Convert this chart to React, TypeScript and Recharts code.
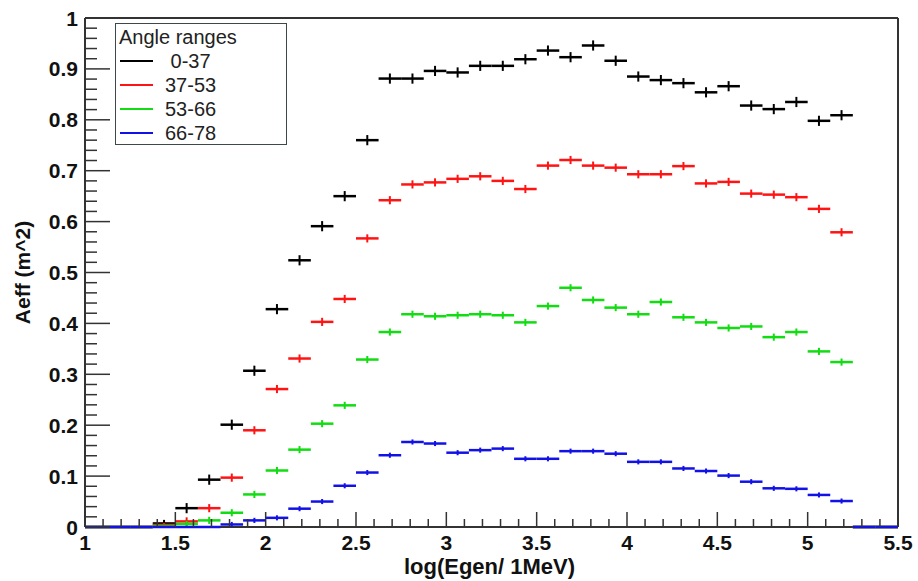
import React from 'react';
import { ComposedChart, Scatter, ErrorBar, XAxis, YAxis, ReferenceLine, Legend } from 'recharts';

// log10(E / 1 MeV) bin centres, bin width 0.125
const BIN_CENTERS = [
  1.0625, 1.1875, 1.3125, 1.4375, 1.5625, 1.6875, 1.8125, 1.9375, 2.0625, 2.1875, 2.3125, 2.4375,
  2.5625, 2.6875, 2.8125, 2.9375, 3.0625, 3.1875, 3.3125, 3.4375, 3.5625, 3.6875, 3.8125, 3.9375,
  4.0625, 4.1875, 4.3125, 4.4375, 4.5625, 4.6875, 4.8125, 4.9375, 5.0625, 5.1875, 5.3125, 5.4375,
];
const BIN_HALF = 0.0625;

const AEFF_0_37 = [
  0, 0, 0, 0.007, 0.037, 0.093, 0.201, 0.307, 0.428, 0.524, 0.591, 0.65,
  0.76, 0.881, 0.881, 0.896, 0.893, 0.906, 0.906, 0.919, 0.936, 0.923, 0.946, 0.916,
  0.885, 0.878, 0.872, 0.854, 0.866, 0.828, 0.821, 0.835, 0.798, 0.809, 0, 0,
];
const AEFF_37_53 = [
  0, 0, 0, 0.004, 0.011, 0.037, 0.097, 0.19, 0.271, 0.331, 0.403, 0.448,
  0.567, 0.642, 0.673, 0.677, 0.684, 0.689, 0.68, 0.664, 0.71, 0.721, 0.71, 0.706,
  0.693, 0.693, 0.709, 0.675, 0.678, 0.655, 0.653, 0.648, 0.625, 0.579, 0, 0,
];
const AEFF_53_66 = [
  0, 0, 0, 0.002, 0.006, 0.013, 0.028, 0.064, 0.111, 0.152, 0.203, 0.239,
  0.329, 0.383, 0.418, 0.414, 0.416, 0.418, 0.416, 0.402, 0.434, 0.47, 0.446, 0.431,
  0.418, 0.442, 0.412, 0.402, 0.391, 0.394, 0.373, 0.383, 0.345, 0.324, 0, 0,
];
const AEFF_66_78 = [
  0, 0, 0, 0, 0, 0, 0.005, 0.013, 0.018, 0.036, 0.05, 0.081,
  0.107, 0.141, 0.167, 0.164, 0.146, 0.151, 0.154, 0.134, 0.134, 0.149, 0.149, 0.144,
  0.128, 0.128, 0.115, 0.11, 0.101, 0.089, 0.076, 0.075, 0.063, 0.051, 0, 0,
];

const SERIES = [
  { key: 'a', label: ' 0-37', color: '#000000', values: AEFF_0_37, err: 0.01 },
  { key: 'b', label: '37-53', color: '#ff1414', values: AEFF_37_53, err: 0.008 },
  { key: 'c', label: '53-66', color: '#12dc12', values: AEFF_53_66, err: 0.007 },
  { key: 'd', label: '66-78', color: '#1212e6', values: AEFF_66_78, err: 0.005 },
];

const X_MAJOR = [1, 1.5, 2, 2.5, 3, 3.5, 4, 4.5, 5, 5.5];
const Y_MAJOR = [0, 0.1, 0.2, 0.3, 0.4, 0.5, 0.6, 0.7, 0.8, 0.9, 1];

// minor ticks: 4 between each pair of majors
const withMinors = (majors: number[]) => {
  const out: number[] = [];
  majors.forEach((m, i) => {
    out.push(m);
    if (i < majors.length - 1) {
      const step = (majors[i + 1] - m) / 5;
      for (let k = 1; k < 5; k++) out.push(+(m + k * step).toFixed(4));
    }
  });
  return out;
};
const X_TICKS = withMinors(X_MAJOR);
const Y_TICKS = withMinors(Y_MAJOR);

const FONT = '"Liberation Sans", Arial, Helvetica, sans-serif';
const AXIS = '#333333';
const GAP = 7;

const isMajor = (v: number, majors: number[]) => majors.some((m) => Math.abs(m - v) < 1e-6);

const YTick = (props: any) => {
  const { x, y, payload } = props;
  const v = payload.value as number;
  const major = isMajor(v, Y_MAJOR);
  const ax = x + GAP;
  return (
    <g>
      <line x1={ax} x2={ax + (major ? 25 : 12)} y1={y} y2={y} stroke={AXIS} strokeWidth={1.5} />
      {major && (
        <text x={x} y={y} dy="0.36em" textAnchor="end" fontFamily={FONT} fontWeight="bold" fontSize={21} fill="#111">
          {String(v)}
        </text>
      )}
    </g>
  );
};

const XTick = (props: any) => {
  const { x, y, payload } = props;
  const v = payload.value as number;
  const major = isMajor(v, X_MAJOR);
  const ay = y - GAP;
  return (
    <g>
      <line x1={x} x2={x} y1={ay} y2={ay - (major ? 15 : 8)} stroke={AXIS} strokeWidth={1.5} />
      {major && (
        <text x={x} y={ay + 23} textAnchor="middle" fontFamily={FONT} fontWeight="bold" fontSize={21} fill="#111">
          {String(v)}
        </text>
      )}
    </g>
  );
};

const YTitle = (props: any) => {
  const vb = props.viewBox;
  const cx = vb.x + 22;
  const cy = vb.y + vb.height / 2;
  return (
    <text x={cx} y={cy} transform={`rotate(-90 ${cx} ${cy})`} textAnchor="middle" dominantBaseline="central"
      fontFamily={FONT} fontWeight="bold" fontSize={21} fill="#111">
      Aeff (m^2)
    </text>
  );
};

const XTitle = (props: any) => {
  const vb = props.viewBox;
  return (
    <text x={vb.x + vb.width * 0.5 - 2} y={vb.y + 47} textAnchor="middle"
      fontFamily={FONT} fontWeight="bold" fontSize={22} fill="#111">
      log(Egen/ 1MeV)
    </text>
  );
};

const LegendBox = () => (
  <div style={{ width: 170, height: 119, border: '1.5px solid #3b4a48', background: '#fff', fontFamily: FONT, fontSize: 20, color: '#222', paddingTop: 1 }}>
    <div style={{ lineHeight: '24px', paddingLeft: 3 }}>Angle ranges</div>
    {SERIES.map((s) => (
      <div key={s.key} style={{ display: 'flex', alignItems: 'center', height: 24 }}>
        <span style={{ display: 'inline-block', width: 33, height: 2, background: s.color, marginLeft: 4 }} />
        <span style={{ marginLeft: 12, whiteSpace: 'pre', lineHeight: '24px' }}>{s.label}</span>
      </div>
    ))}
  </div>
);

export default function App() {
  return (
    <div style={{ position: 'absolute', left: 0, top: 0, background: '#fff' }}>
      <ComposedChart width={918} height={581} margin={{ top: 18, right: 20, bottom: 0, left: 0 }}>
        <XAxis dataKey="x" type="number" domain={[1, 5.5]} ticks={X_TICKS} interval={0}
          height={54} tickSize={0} tickMargin={GAP} tickLine={false} tick={<XTick />}
          axisLine={{ stroke: AXIS, strokeWidth: 2 }} label={<XTitle />} />
        <YAxis dataKey="y" type="number" domain={[0, 1]} ticks={Y_TICKS} interval={0}
          width={85} tickSize={0} tickMargin={GAP} tickLine={false} tick={<YTick />}
          axisLine={{ stroke: AXIS, strokeWidth: 2 }} label={<YTitle />} />
        <ReferenceLine y={1} stroke={AXIS} strokeWidth={2} />
        <ReferenceLine x={5.5} stroke={AXIS} strokeWidth={2} />
        {SERIES.map((s) => (
          <Scatter
            key={s.key}
            name={s.label}
            data={BIN_CENTERS.map((c, i) => ({ x: c, y: s.values[i], ex: BIN_HALF, ey: Math.min(s.err, s.values[i]) }))}
            fill={s.color}
            shape={() => <g />}
            isAnimationActive={false}
            {...({ zIndex: 800 } as any)}
          >
            <ErrorBar dataKey="ex" direction="x" width={0} stroke={s.color} strokeWidth={2.5} isAnimationActive={false} {...({ zIndex: 800 } as any)} />
            <ErrorBar dataKey="ey" direction="y" width={0} stroke={s.color} strokeWidth={2} isAnimationActive={false} {...({ zIndex: 800 } as any)} />
          </Scatter>
        ))}
        <Legend content={<LegendBox />} layout="vertical" align="center" verticalAlign="middle"
          wrapperStyle={{ left: 115, top: 23, width: 'auto', height: 'auto' }} />
      </ComposedChart>
    </div>
  );
}
